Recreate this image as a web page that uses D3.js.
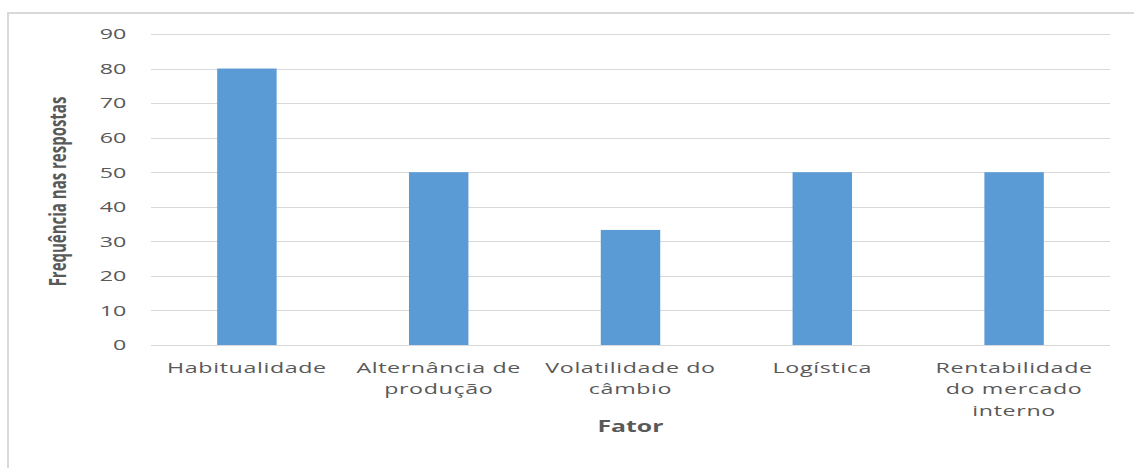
<!DOCTYPE html>
<html>
<head>
<meta charset="utf-8">
<script src="https://cdn.jsdelivr.net/npm/d3@7"></script>
<style>
  html, body { margin: 0; padding: 0; background: #fff; }
  svg { display: block; }
  .tick text { fill: #595959; }
</style>
</head>
<body>
<div id="chart"></div>
<script>
// data
const categories = ["Habitualidade", "Alternância de\nprodução", "Volatilidade do\ncâmbio", "Logística", "Rentabilidade\ndo mercado\ninterno"];
const values = [80, 50, 33.3, 50, 50];
const yTicks = [0, 10, 20, 30, 40, 50, 60, 70, 80, 90];
const xTitle = "Fator";
const yTitle = "Frequência nas respostas";

const width = 1134, height = 468;
const sx = 1.55; // the source picture is stretched sideways
const margin = { top: 34, right: (1134 - 1110) / sx, bottom: 468 - 345, left: 151 / sx };
const innerW = width / sx - margin.left - margin.right;
const innerH = height - margin.top - margin.bottom;

const svg = d3.select("#chart").append("svg")
  .attr("width", width)
  .attr("height", height);

// outer frame of the chart area
svg.append("rect")
  .attr("x", 8).attr("y", 13)
  .attr("width", width + 10).attr("height", height + 10)
  .attr("fill", "none")
  .attr("stroke", "#d9d9d9")
  .attr("stroke-width", 2);

const g = svg.append("g")
  .attr("transform", "scale(" + sx + ",1) translate(" + margin.left + "," + margin.top + ")");

const x = d3.scaleBand().domain(categories).range([0, innerW]).paddingInner(0.69).paddingOuter(0.345);
const y = d3.scaleLinear().domain([0, 90]).range([innerH, 0]);

// gridlines
g.append("g")
  .selectAll("line")
  .data(yTicks)
  .enter().append("line")
  .attr("x1", 0).attr("x2", innerW)
  .attr("y1", d => Math.round(y(d)) + 0.5)
  .attr("y2", d => Math.round(y(d)) + 0.5)
  .attr("stroke", "#d9d9d9")
  .attr("stroke-width", 1);

// bars
g.append("g")
  .selectAll("rect")
  .data(values)
  .enter().append("rect")
  .attr("x", (d, i) => x(categories[i]))
  .attr("y", d => y(d))
  .attr("width", x.bandwidth())
  .attr("height", d => innerH - y(d))
  .attr("fill", "#5b9bd5");

// y axis
const yAxis = g.append("g")
  .call(d3.axisLeft(y).tickValues(yTicks).tickSize(0).tickPadding(16));
yAxis.select(".domain").remove();
yAxis.selectAll("text")
  .attr("font-family", "'Open Sans', sans-serif")
  .attr("font-size", 15);

// x axis, labels wrapped on "\n"
const xAxis = g.append("g")
  .attr("transform", "translate(0," + innerH + ")")
  .call(d3.axisBottom(x).tickSize(0).tickPadding(0));
xAxis.select(".domain").remove();
xAxis.selectAll("text").each(function (d) {
  const t = d3.select(this).text(null)
    .attr("font-family", "'Open Sans', sans-serif")
    .attr("font-size", 15)
    .attr("letter-spacing", 0.4)
    .attr("dy", null)
    .attr("y", null);
  d.split("\n").forEach((line, i) => {
    t.append("tspan").attr("x", 0).attr("y", 28 + i * 21.5).text(line);
  });
});

// axis titles
g.append("text")
  .attr("x", innerW / 2)
  .attr("y", innerH + 87)
  .attr("text-anchor", "middle")
  .attr("font-family", "'Open Sans', sans-serif")
  .attr("font-size", 16)
  .attr("font-weight", "bold")
  .attr("fill", "#595959")
  .text(xTitle);

g.append("text")
  .attr("transform", "translate(" + (-margin.left + 66 / sx) + "," + (innerH / 2 + 2) + ") rotate(-90)")
  .attr("text-anchor", "middle")
  .attr("font-family", "'Open Sans', sans-serif")
  .attr("font-size", 15)
  .attr("font-weight", "bold")
  .attr("fill", "#595959")
  .text(yTitle);
</script>
</body>
</html>
